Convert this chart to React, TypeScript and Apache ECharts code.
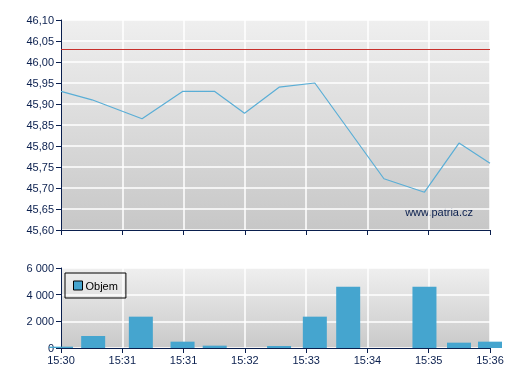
import React, { useEffect, useRef } from "react";
import * as echarts from "echarts";

const timeLabels = ["15:30", "15:31", "15:31", "15:32", "15:33", "15:34", "15:35", "15:36"];
const priceTimes = [0, 26, 68, 102, 129, 154, 183, 213, 271, 305, 334, 360];
const prices = [45.93, 45.91, 45.865, 45.93, 45.93, 45.878, 45.94, 45.95, 45.722, 45.69, 45.807, 45.759];
const volumeTimes = [0, 27, 67, 102, 129, 183, 213, 241, 305, 334, 360];
const volumes = [100, 900, 2350, 475, 175, 150, 2350, 4600, 4600, 400, 475];
const referencePrice = 46.03;
const priceTicks = { min: 45.6, max: 46.1, interval: 0.05 };
const volumeTicks = { min: 0, max: 6000, interval: 2000 };
const spanSeconds = 360;

const NAVY = "#0a1f4e";
const FONT = "Liberation Sans, Arial, sans-serif";

export default function App() {
  const ref = useRef<HTMLDivElement>(null);
  useEffect(() => {
    if (!ref.current) return;
    const chart = echarts.init(ref.current, null, { renderer: "svg" });
    const bg = new echarts.graphic.LinearGradient(0, 0, 0, 1, [
      { offset: 0, color: "#efefef" },
      { offset: 1, color: "#c7c7c7" },
    ]);
    const bg2 = new echarts.graphic.LinearGradient(0, 0, 0, 1, [
      { offset: 0, color: "#efefef" },
      { offset: 1, color: "#c9c9c9" },
    ]);
    const xInterval = spanSeconds / (timeLabels.length - 1);
    const xLabel = (v: number) => timeLabels[Math.round(v / xInterval)] ?? "";
    const axisLine = { show: true, lineStyle: { color: NAVY, width: 1 } };
    const axisTick = { show: true, length: 5, lineStyle: { color: NAVY } };
    const split = { show: true, lineStyle: { color: "#ffffff", width: 1.5 } };
    chart.setOption({
      animation: false,
      textStyle: { fontFamily: FONT },
      grid: [
        { left: 61, right: 17, top: 20, height: 210, show: true, backgroundColor: bg, borderWidth: 0 },
        { left: 61, right: 17, top: 268, height: 80, show: true, backgroundColor: bg2, borderWidth: 0 },
      ],
      legend: {
        show: true,
        data: ["Objem"],
        left: 65,
        top: 273,
        orient: "vertical",
        borderColor: "#000",
        borderWidth: 1,
        padding: [7, 8, 7, 8],
        itemWidth: 9,
        itemHeight: 9,
        itemGap: 0,
        icon: "rect",
        itemStyle: { borderColor: "#000", borderWidth: 1 },
        textStyle: { color: "#000", fontSize: 11, fontFamily: FONT, padding: [0, 0, 0, -2] },
      },
      xAxis: [
        {
          type: "value",
          gridIndex: 0,
          min: 0,
          max: spanSeconds,
          interval: xInterval,
          axisLine,
          axisTick,
          axisLabel: { show: false },
          splitLine: split,
        },
        {
          type: "value",
          gridIndex: 1,
          min: 0,
          max: spanSeconds,
          interval: xInterval,
          axisLine,
          axisTick,
          axisLabel: { color: NAVY, fontSize: 11, fontFamily: FONT, margin: 6, formatter: xLabel },
          splitLine: split,
        },
      ],
      yAxis: [
        {
          type: "value",
          gridIndex: 0,
          min: priceTicks.min,
          max: priceTicks.max,
          interval: priceTicks.interval,
          axisLine,
          axisTick,
          axisLabel: {
            color: NAVY,
            fontSize: 11,
            fontFamily: FONT,
            margin: 7,
            formatter: (v: number) => v.toFixed(2).replace(".", ","),
          },
          splitLine: split,
        },
        {
          type: "value",
          gridIndex: 1,
          min: volumeTicks.min,
          max: volumeTicks.max,
          interval: volumeTicks.interval,
          axisLine,
          axisTick,
          axisLabel: {
            color: NAVY,
            fontSize: 11,
            fontFamily: FONT,
            margin: 7,
            formatter: (v: number) => String(Math.round(v)).replace(/\B(?=(\d{3})+(?!\d))/g, " "),
          },
          splitLine: split,
        },
      ],
      series: [
        {
          name: "Cena",
          type: "line",
          xAxisIndex: 0,
          yAxisIndex: 0,
          data: priceTimes.map((t, i) => [t, prices[i]]),
          symbol: "none",
          lineStyle: { color: "#5aaed6", width: 1.2 },
          markLine: {
            silent: true,
            symbol: "none",
            label: { show: false },
            lineStyle: { color: "#c8302c", width: 1, type: "solid" },
            data: [{ yAxis: referencePrice }],
          },
        },
        {
          name: "Objem",
          type: "bar",
          xAxisIndex: 1,
          yAxisIndex: 1,
          data: volumeTimes.map((t, i) => [t, volumes[i]]),
          barWidth: 24,
          clip: true,
          itemStyle: { color: "#45a5cf" },
        },
      ],
      graphic: [
        {
          type: "text",
          right: 34,
          top: 206,
          style: { text: "www.patria.cz", fill: NAVY, font: `11px ${FONT}` },
        },
      ],
    });
    return () => chart.dispose();
  }, []);
  return <div ref={ref} style={{ position: "fixed", left: 0, top: 0, width: 507, height: 380 }} />;
}
